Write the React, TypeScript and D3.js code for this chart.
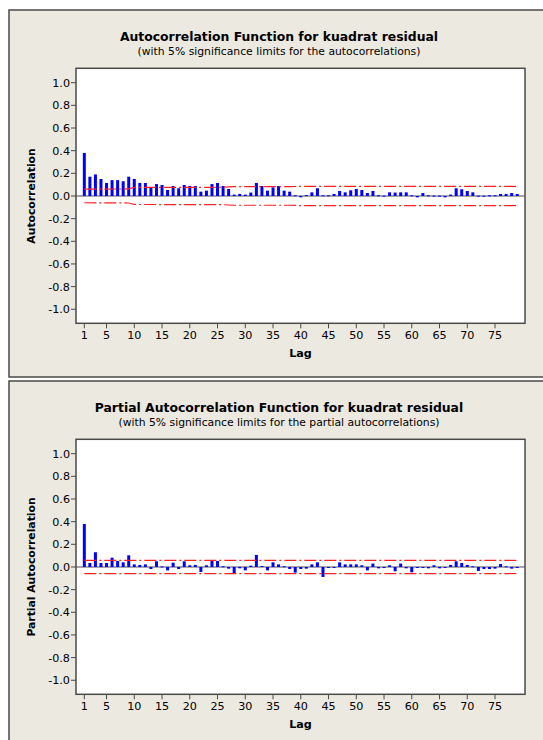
import React from 'react';
import * as d3 from 'd3';

// ACF of the squared residuals, lags 1..79
const acfValues = [
  0.38, 0.17, 0.19, 0.15, 0.115, 0.14, 0.14, 0.13, 0.17, 0.15,
  0.115, 0.115, 0.076, 0.105, 0.097, 0.053, 0.088, 0.068, 0.097, 0.088,
  0.088, 0.038, 0.047, 0.105, 0.115, 0.088, 0.062, 0.012, 0.018, 0.012,
  0.03, 0.115, 0.088, 0.047, 0.076, 0.088, 0.047, 0.038, 0.006, -0.012,
  0.008, 0.032, 0.068, 0.006, 0.006, 0.018, 0.044, 0.032, 0.05, 0.062,
  0.053, 0.026, 0.044, 0.006, 0.003, 0.032, 0.03, 0.032, 0.032, 0.006,
  -0.012, 0.026, 0.006, 0.003, 0.003, -0.012, 0.012, 0.068, 0.059, 0.044,
  0.032, 0.003, 0.003, 0.006, 0.006, 0.018, 0.018, 0.026, 0.018,
];

// PACF of the squared residuals, lags 1..79
const pacfValues = [
  0.38, 0.035, 0.13, 0.035, 0.035, 0.082, 0.053, 0.041, 0.103, 0.023,
  0.018, 0.023, -0.018, 0.05, 0.005, -0.03, 0.038, -0.018, 0.05, 0.015,
  0.018, -0.044, 0.015, 0.059, 0.053, 0.006, -0.015, -0.059, -0.012, -0.03,
  0.012, 0.106, 0.009, -0.03, 0.041, 0.023, 0.006, -0.018, -0.05, -0.018,
  -0.015, 0.023, 0.041, -0.088, -0.006, -0.006, 0.041, 0.023, 0.023, 0.023,
  0.015, -0.03, 0.03, -0.012, -0.006, 0.015, -0.038, 0.03, -0.012, -0.047,
  -0.006, -0.006, -0.012, 0.015, -0.012, -0.006, 0.018, 0.05, 0.035, 0.018,
  0.006, -0.035, -0.018, -0.018, -0.015, 0.026, 0.006, -0.015, -0.006,
];

// 5% significance limits (read at a few lags, +/-)
const acfLimitLags = [1, 9, 10, 26, 28, 38, 40, 79];
const acfLimitValues = [0.06, 0.062, 0.075, 0.077, 0.082, 0.082, 0.085, 0.085];
const pacfLimitLags = [1, 79];
const pacfLimitValues = [0.058, 0.058];

const lagTicks = [1, 5, 10, 15, 20, 25, 30, 35, 40, 45, 50, 55, 60, 65, 70, 75];
const yTicks = [1.0, 0.8, 0.6, 0.4, 0.2, 0.0, -0.2, -0.4, -0.6, -0.8, -1.0];

const W = 543;
const H = 740;
const FONT = "'DejaVu Sans', Verdana, sans-serif";

type PanelProps = {
  top: number;
  title: string;
  subtitle: string;
  yLabel: string;
  values: number[];
  limitLags: number[];
  limitValues: number[];
};

function Panel({ top, title, subtitle, yLabel, values, limitLags, limitValues }: PanelProps) {
  const plotLeft = 76;
  const plotRight = 525;
  const plotTop = top + 58.3;
  const plotBottom = top + 313.3;

  const x = d3.scaleLinear().domain([-0.5, 80.4]).range([plotLeft, plotRight]);
  const y = d3.scaleLinear().domain([-1.124, 1.127]).range([plotBottom, plotTop]);

  const limitLine = d3
    .line<number>()
    .x((_, i) => x(limitLags[i]))
    .y((d) => y(d));

  const barW = 3;

  return (
    <g>
      {/* panel */}
      <rect x={9} y={top} width={545} height={367} fill="#ECE9E0" stroke="#4a4a4a" strokeWidth={1.5} />
      <text x={279} y={top + 31} textAnchor="middle" fontFamily={FONT} fontWeight="bold" fontSize={12.4} fill="#000">
        {title}
      </text>
      <text x={279} y={top + 45} textAnchor="middle" fontFamily={FONT} fontSize={10.8} fill="#000">
        {subtitle}
      </text>

      {/* plot area */}
      <rect x={plotLeft} y={plotTop} width={plotRight - plotLeft} height={plotBottom - plotTop} fill="#fff" />

      {/* zero line */}
      <line x1={plotLeft} x2={plotRight} y1={y(0)} y2={y(0)} stroke="#8a8a8a" strokeWidth={1.5} />

      {/* bars */}
      {values.map((v, i) => (
        <rect
          key={i}
          x={x(i + 1) - barW / 2}
          y={Math.min(y(v), y(0))}
          width={barW}
          height={Math.max(Math.abs(y(v) - y(0)), 1)}
          fill="#0000FF"
        />
      ))}

      {/* significance limits */}
      <path d={limitLine(limitValues) || ''} fill="none" stroke="#FF2020" strokeWidth={1.2} strokeDasharray="12,3,2,3" />
      <path d={limitLine(limitValues.map((v) => -v)) || ''} fill="none" stroke="#FF2020" strokeWidth={1.2} strokeDasharray="12,3,2,3" />

      <rect x={plotLeft} y={plotTop} width={plotRight - plotLeft} height={plotBottom - plotTop} fill="none" stroke="#4a4a4a" strokeWidth={1.5} />

      {/* y axis */}
      {yTicks.map((t) => (
        <g key={t}>
          <line x1={plotLeft - 5} x2={plotLeft} y1={y(t)} y2={y(t)} stroke="#4a4a4a" strokeWidth={1} />
          <text x={plotLeft - 6} y={y(t) + 4} textAnchor="end" fontFamily={FONT} fontSize={11.2} fill="#000">
            {t.toFixed(1)}
          </text>
        </g>
      ))}
      <text
        transform={`translate(${35}, ${y(0)}) rotate(-90)`}
        textAnchor="middle"
        fontFamily={FONT}
        fontWeight="bold"
        fontSize={10.8}
        fill="#000"
      >
        {yLabel}
      </text>

      {/* x axis */}
      {lagTicks.map((t) => (
        <g key={t}>
          <line x1={x(t)} x2={x(t)} y1={plotBottom} y2={plotBottom + 5} stroke="#4a4a4a" strokeWidth={1} />
          <text x={x(t)} y={plotBottom + 16} textAnchor="middle" fontFamily={FONT} fontSize={11.2} fill="#000">
            {t}
          </text>
        </g>
      ))}
      <text x={(plotLeft + plotRight) / 2} y={plotBottom + 34} textAnchor="middle" fontFamily={FONT} fontWeight="bold" fontSize={11.2} fill="#000">
        Lag
      </text>
    </g>
  );
}

export default function App() {
  return (
    <svg width={W} height={H} style={{ position: 'absolute', left: 0, top: 0, background: '#fff' }}>
      <Panel
        top={10}
        title="Autocorrelation Function for kuadrat residual"
        subtitle="(with 5% significance limits for the autocorrelations)"
        yLabel="Autocorrelation"
        values={acfValues}
        limitLags={acfLimitLags}
        limitValues={acfLimitValues}
      />
      <Panel
        top={381}
        title="Partial Autocorrelation Function for kuadrat residual"
        subtitle="(with 5% significance limits for the partial autocorrelations)"
        yLabel="Partial Autocorrelation"
        values={pacfValues}
        limitLags={pacfLimitLags}
        limitValues={pacfLimitValues}
      />
    </svg>
  );
}
